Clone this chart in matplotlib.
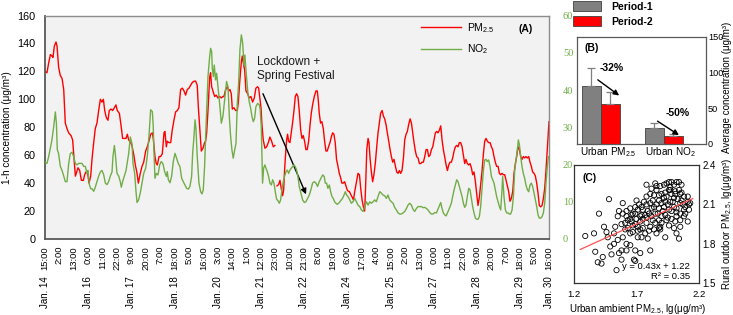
import numpy as np
import matplotlib
matplotlib.use('Agg')
import matplotlib.pyplot as plt
from matplotlib import transforms

plt.rcParams['font.family'] = ['Liberation Sans', 'DejaVu Sans']
plt.rcParams['mathtext.fontset'] = 'custom'
plt.rcParams['mathtext.rm'] = 'Liberation Sans'
plt.rcParams['mathtext.it'] = 'Liberation Sans:italic'
plt.rcParams['mathtext.bf'] = 'Liberation Sans:bold'

## (A) hourly series, hours since Jan. 14 15:00 -> value
pm_readings = [
    (0, 120), (1.5, 119), (2.8, 126), (4.1, 132), (5.3, 131), (6.1, 130), (7.1, 138), (8.4, 141), (9.2, 138),
    (10.4, 123), (11.7, 117), (13.0, 115), (14.3, 107), (15.5, 83), (16.8, 79), (18.1, 76), (19.9, 74),
    (21.1, 71), (22.1, 59), (23.2, 45), (24.2, 48), (25.2, 51), (26.5, 49), (27.8, 42), (29.3, 42), (30.3, 46),
    (31.3, 48), (32.6, 47), (33.6, 40), (34.9, 45), (35.9, 57), (37.2, 69), (38.4, 79), (39.7, 83), (41.0, 92),
    (42.3, 100), (43.5, 98), (44.6, 100), (45.6, 92), (46.8, 87), (48.1, 85), (49.1, 92), (50.4, 93), (51.7, 92),
    (53.0, 94), (54.2, 96), (55.2, 92), (56.8, 90), (58.0, 82), (59.3, 72), (60.6, 72), (61.9, 72), (62.9, 75),
    (63.9, 71), (65.4, 69), (66.4, 67), (67.7, 61), (69.0, 53), (70.3, 47), (71.3, 40), (72.8, 47), (74.1, 52),
    (75.4, 55), (76.9, 63), (78.1, 66), (79.4, 70), (80.7, 75), (82.0, 76), (82.7, 72), (84.0, 59), (85.0, 54),
    (85.8, 53), (87.1, 59), (88.3, 59), (89.6, 61), (90.9, 76), (91.6, 77), (92.7, 66), (93.4, 70), (94.7, 69),
    (96.0, 69), (97.2, 78), (98.5, 85), (99.8, 91), (101.1, 92), (102.3, 94), (103.6, 107), (104.9, 108),
    (106.2, 106), (107.4, 103), (108.7, 107), (110.0, 108), (111.2, 110), (112.5, 112), (113.8, 113),
    (115.1, 113), (116.3, 110), (117.1, 95), (118.1, 81), (119.4, 63), (120.7, 65), (121.9, 69), (122.7, 70),
    (123.5, 76), (124.5, 92), (125.8, 116), (126.5, 119), (127.3, 109), (128.3, 106), (129.6, 102),
    (130.8, 103), (132.1, 101), (133.4, 102), (134.7, 101), (135.9, 102), (136.7, 102), (138.0, 107),
    (139.3, 109), (140.5, 106), (141.3, 107), (142.3, 104), (143.1, 93), (144.3, 94), (145.6, 92), (146.9, 92),
    (147.7, 98), (148.7, 112), (150.0, 127), (150.7, 131), (151.5, 126), (152.5, 121), (153.5, 106),
    (154.8, 104), (156.0, 101), (157.3, 102), (158.6, 98), (159.9, 101), (161.1, 108), (162.4, 109),
    (163.2, 108), (164.2, 100), (165.0, 94), (165.7, 82), (166.7, 71), (168.0, 65), (169.3, 66), (170.6, 69),
    (171.8, 73), (173.1, 70), (174.4, 66), (175.6, 67), (176.4, np.nan), (177.2, 38), (178.5, 39), (179.5, 42),
    (180.5, 36), (181.5, 31), (182.3, 35), (183.0, 49), (183.8, 61), (184.6, 71), (185.3, 75), (186.1, 70),
    (187.1, 69), (188.1, 76), (189.1, 83), (190.2, 92), (191.2, 102), (192.2, 104), (193.2, 102), (194.2, 92),
    (195.3, 78), (196.3, 72), (197.3, 74), (198.3, 70), (199.3, 64), (200.3, 64), (201.4, 70), (202.4, 81),
    (203.4, 90), (204.4, 96), (205.7, 102), (207.0, 106), (208.0, 106), (208.7, 100), (209.5, 90), (210.5, 83),
    (211.5, 84), (212.6, 79), (213.6, 70), (214.6, 63), (215.6, 63), (216.6, 66), (217.7, 69), (218.7, 73),
    (219.7, 76), (220.7, 75), (221.7, 69), (222.7, 57), (223.8, 52), (224.8, 47), (225.8, 44), (226.8, 40),
    (227.8, 40), (228.9, 41), (229.9, 38), (230.9, 35), (231.9, 34), (232.5, 34), (233.5, 32), (234.6, 30),
    (235.6, 28), (236.6, 34), (237.9, 41), (239.1, 47), (240.2, 46), (241.2, 36), (242.2, 28), (243.2, 23),
    (244.2, 20), (245.0, 40), (245.8, 64), (246.8, 72), (247.5, 69), (248.3, 58), (249.3, 48), (250.3, 41),
    (251.4, 47), (252.4, 55), (253.4, 66), (254.4, 76), (255.4, 83), (256.4, 90), (257.5, 92), (258.5, 88),
    (259.5, 86), (260.5, 82), (261.5, 76), (262.6, 70), (263.6, 64), (264.6, 59), (265.6, 55), (266.6, 57),
    (267.7, 52), (268.7, 48), (269.7, 47), (270.7, 49), (271.7, 47), (272.7, 49), (273.8, 58), (274.8, 71),
    (275.8, 75), (276.8, 77), (277.8, 82), (278.9, 86), (279.9, 83), (280.9, 76), (281.9, 69), (282.9, 63),
    (283.9, 59), (285.0, 58), (286.0, 54), (287.0, 54), (288.0, 55), (289.0, 55), (290.1, 59), (291.1, 64),
    (292.1, 64), (293.1, 59), (294.1, 60), (295.2, 64), (296.2, 66), (297.2, 71), (298.2, 76), (299.2, 77),
    (300.2, 76), (301.3, 78), (302.3, 81), (303.3, 71), (304.3, 64), (305.3, 59), (306.4, 53), (307.4, 49),
    (308.4, 53), (309.4, 55), (310.4, 55), (311.4, 58), (312.5, 63), (313.5, 66), (314.5, 67), (315.5, 66),
    (316.5, 69), (317.5, 69), (318.6, 66), (319.6, 60), (320.6, 54), (321.6, 57), (322.6, 54), (323.7, 53),
    (324.7, 54), (325.7, 51), (326.7, 46), (327.7, 48), (328.8, 41), (329.8, 32), (330.8, 24), (331.8, 30),
    (332.8, 39), (333.8, 48), (334.9, 61), (335.9, 70), (336.9, 72), (337.9, 70), (338.9, 69), (340.0, 69),
    (341.0, 66), (342.0, 64), (343.0, 59), (344.0, 55), (345.0, 52), (346.1, 52), (347.1, 47), (348.1, 46),
    (349.1, 47), (350.1, 46), (351.2, 46), (352.2, 42), (353.2, 38), (354.2, 34), (355.2, 27), (356.2, 29),
    (357.3, 34), (358.3, 47), (359.3, 54), (360.3, 59), (361.3, 66), (362.4, 64), (363.4, 59), (364.4, 57),
    (365.4, 59), (366.4, 58), (367.4, 59), (368.5, 58), (369.5, 59), (370.5, 55), (371.5, 52), (372.5, 48),
    (373.6, 47), (374.6, 45), (375.6, 40), (376.6, 33), (377.6, 24), (378.7, 23), (379.7, 24), (380.7, 29),
    (381.7, 36), (382.7, 49), (383.7, 64), (385.0, 84),
]

no2_readings = [
    (0, 20.6), (1.5, 20.3), (2.8, 22.1), (4.1, 24.4), (5.3, 26.6), (6.6, 30.0), (7.9, 34.1), (8.7, 31.1),
    (9.4, 24.0), (10.4, 22.9), (11.7, 19.5), (13.0, 18.4), (14.3, 16.9), (15.5, 15.4), (16.8, 15.4),
    (18.1, 20.3), (19.3, 22.9), (20.6, 23.3), (21.9, 22.1), (23.2, 20.3), (24.4, 19.9), (25.7, 20.3),
    (27.0, 20.3), (28.3, 20.3), (29.5, 19.5), (30.8, 19.5), (32.1, 17.6), (32.8, 18.4), (33.9, 14.6),
    (34.9, 13.5), (35.9, 13.5), (37.2, 12.8), (38.4, 13.9), (39.7, 15.4), (41.0, 16.9), (42.3, 18.0),
    (43.5, 18.4), (44.8, 17.3), (46.1, 15.0), (47.4, 14.6), (48.6, 15.4), (49.9, 16.9), (51.2, 18.0),
    (51.9, 22.1), (53.0, 25.1), (53.7, 22.9), (55.0, 17.6), (56.3, 16.9), (57.5, 15.4), (58.3, 13.9),
    (59.3, 15.4), (60.6, 16.9), (61.9, 18.4), (62.9, 20.6), (63.9, 22.9), (65.2, 27.4), (66.5, 25.5),
    (67.2, 20.3), (68.5, 17.6), (69.5, 12.8), (70.3, 9.8), (71.5, 10.5), (72.8, 12.4), (74.1, 15.0),
    (75.4, 17.6), (76.9, 19.0), (78.1, 22.1), (79.4, 27.5), (80.7, 34.7), (82.0, 34.2), (82.7, 30.2),
    (83.2, 23.9), (84.0, 16.3), (85.0, 17.6), (86.3, 17.2), (87.6, 19.9), (88.8, 20.8), (90.1, 20.2),
    (91.4, 18.1), (92.7, 16.8), (93.4, 18.1), (94.2, 15.9), (95.5, 15.1), (96.7, 16.8), (98.0, 20.8),
    (99.3, 23.0), (100.5, 21.7), (101.8, 20.3), (103.1, 19.4), (104.4, 16.3), (105.6, 15.4), (106.9, 14.5),
    (108.2, 13.6), (109.5, 13.4), (110.7, 14.1), (112.0, 16.8), (112.8, 23.0), (113.8, 27.5), (114.6, 32.0),
    (115.3, 29.7), (116.3, 22.1), (117.6, 15.0), (118.9, 12.7), (119.9, 12.1), (120.9, 13.2), (121.9, 19.4),
    (122.7, 27.5), (123.5, 34.7), (124.5, 43.6), (125.8, 49.0), (126.5, 51.2), (127.3, 50.3), (127.8, 45.8),
    (128.6, 43.6), (129.3, 46.7), (130.3, 42.7), (131.1, 44.5), (132.1, 40.9), (133.4, 36.4), (134.7, 31.1),
    (135.9, 32.9), (137.2, 37.3), (138.7, 42.3), (139.8, 40.9), (140.8, 32.9), (141.8, 27.5), (142.8, 23.9),
    (143.8, 21.7), (144.9, 23.9), (145.9, 25.7), (146.9, 36.4), (147.9, 41.8), (148.9, 50.8), (150.0, 54.8),
    (151.0, 52.6), (152.0, 46.7), (152.7, 49.4), (153.5, 45.4), (155.0, 39.1), (156.0, 36.9), (157.1, 35.1),
    (158.1, 32.9), (159.1, 31.5), (160.1, 32.4), (161.1, 35.5), (162.4, 36.4), (163.7, 36.0), (164.4, 34.7),
    (165.2, 30.2), (165.7, 22.1), (166.2, 15.0), (167.0, 19.0), (168.0, 19.9), (168.8, 19.0), (169.8, 18.1),
    (170.8, 16.8), (171.8, 15.0), (172.9, 14.5), (173.9, 15.9), (174.9, 15.0), (175.9, 12.7), (176.9, 10.7),
    (177.9, 10.3), (179.0, 9.6), (180.0, 10.5), (181.0, 13.2), (182.0, 15.4), (183.0, 16.8), (184.1, 18.1),
    (185.1, 18.5), (186.1, 17.6), (187.1, 18.5), (188.1, 19.0), (189.1, 19.4), (190.2, 19.9), (191.2, 19.4),
    (192.2, 18.5), (193.2, 16.8), (194.2, 14.1), (195.5, 12.3), (196.8, 10.5), (198.1, 9.8), (199.3, 10.0),
    (200.6, 10.9), (201.9, 11.8), (203.1, 13.2), (204.4, 15.0), (205.7, 15.4), (207.0, 15.0), (208.2, 14.1),
    (209.5, 15.4), (210.8, 16.3), (212.1, 17.2), (213.3, 16.8), (214.1, 15.0), (215.1, 15.0), (216.1, 13.6),
    (217.2, 14.5), (218.2, 12.7), (219.2, 11.4), (220.2, 10.9), (221.2, 10.0), (222.2, 9.6), (223.3, 9.3),
    (224.3, 9.6), (225.3, 10.0), (226.3, 10.5), (227.3, 10.9), (228.4, 11.8), (229.4, 12.7), (230.4, 11.8),
    (231.4, 11.4), (232.8, 10.5), (234.0, 9.6), (235.3, 10.0), (236.6, 10.9), (237.9, 10.0), (239.1, 9.1),
    (240.4, 8.7), (241.7, 7.8), (243.0, 7.4), (244.2, 8.7), (245.5, 10.0), (246.8, 9.1), (248.1, 10.0),
    (249.3, 9.6), (250.6, 10.0), (251.9, 10.5), (253.1, 10.0), (254.4, 11.4), (255.7, 12.7), (257.0, 12.3),
    (258.2, 11.8), (259.5, 11.6), (260.8, 10.9), (262.0, 11.8), (263.3, 10.5), (264.6, 10.0), (265.9, 9.6),
    (267.1, 8.5), (268.4, 7.8), (269.7, 7.0), (271.0, 6.7), (272.2, 6.7), (273.5, 7.0), (274.8, 7.4),
    (276.1, 8.2), (277.3, 9.1), (278.6, 9.6), (279.9, 9.1), (281.1, 8.0), (282.4, 7.4), (283.7, 8.2),
    (285.0, 8.7), (286.2, 8.7), (287.5, 8.7), (288.8, 8.4), (290.1, 8.5), (291.3, 8.2), (292.6, 7.8),
    (293.9, 7.1), (295.2, 6.7), (296.4, 6.7), (297.7, 7.1), (299.0, 7.0), (300.2, 8.0), (301.5, 9.1),
    (302.3, 9.8), (303.3, 8.2), (304.3, 7.0), (305.3, 6.5), (306.4, 6.2), (307.4, 7.0), (308.4, 7.8),
    (309.4, 8.7), (310.4, 9.6), (311.4, 11.4), (312.5, 13.2), (313.5, 14.5), (314.5, 15.9), (315.5, 15.4),
    (316.5, 14.1), (317.5, 12.7), (318.6, 11.4), (319.6, 9.6), (320.6, 8.5), (321.6, 9.1), (322.6, 11.4),
    (323.7, 13.6), (324.7, 13.2), (325.7, 10.9), (326.7, 8.7), (327.7, 7.0), (328.8, 5.6), (329.8, 5.3),
    (330.8, 5.3), (331.8, 6.0), (332.8, 8.7), (333.8, 13.2), (334.9, 18.5), (335.9, 21.2), (336.9, 21.4),
    (337.9, 20.8), (338.9, 21.2), (340.0, 19.4), (341.0, 16.8), (342.0, 15.9), (343.0, 15.0), (344.0, 13.2),
    (345.0, 11.4), (346.1, 10.0), (347.1, 8.7), (348.1, 7.8), (349.1, 13.2), (349.6, 16.8), (350.6, 11.4),
    (351.7, 7.8), (352.7, 7.0), (353.7, 7.0), (354.7, 6.7), (355.7, 6.7), (356.8, 7.8), (357.8, 11.4),
    (358.8, 18.5), (359.8, 21.2), (360.8, 23.9), (361.6, 26.6), (362.4, 25.3), (363.4, 22.1), (364.4, 19.4),
    (365.4, 17.6), (366.4, 16.3), (367.4, 14.5), (368.5, 13.2), (369.5, 12.7), (370.5, 14.5), (371.5, 15.0),
    (372.5, 14.1), (373.6, 12.3), (374.6, 10.5), (375.6, 8.7), (376.6, 6.5), (377.6, 5.6), (378.7, 5.6),
    (379.7, 6.0), (380.7, 7.0), (381.7, 9.6), (382.7, 15.0), (383.7, 19.4), (384.5, 22.1),
]

time_labels = ['15:00', '2:00', '13:00', '0:00', '11:00', '22:00', '9:00', '20:00', '7:00', '18:00',
               '5:00', '16:00', '3:00', '14:00', '1:00', '12:00', '23:00', '10:00', '21:00', '8:00',
               '19:00', '6:00', '17:00', '4:00', '15:00', '2:00', '13:00', '0:00', '11:00', '22:00',
               '9:00', '20:00', '7:00', '18:00', '5:00', '16:00']
tick_step = 11
date_labels = ['Jan. 14', 'Jan. 16', 'Jan. 17', 'Jan. 18', 'Jan. 20', 'Jan. 21', 'Jan. 22',
               'Jan. 24', 'Jan. 25', 'Jan. 27', 'Jan. 28', 'Jan. 29', 'Jan. 30']
date_tick_index = [0, 3, 6, 9, 12, 15, 18, 21, 24, 27, 30, 33, 35]

## (B) averages
groups = ['Urban PM$_{\\mathrm{2.5}}$', 'Urban NO$_{\\mathrm{2}}$']
period1 = [82, 22]
period1_err = [25, 8]
period2 = [56, 11]
period2_err = [17, 3]
changes = ['-32%', '-50%']

## (C) rural vs urban, lg values
scatter_pts = [
    (1.29, 1.86), (1.36, 1.88), (1.40, 2.03), (1.48, 2.14), (1.44, 1.93), (1.37, 1.74), (1.39, 1.66),
    (1.42, 1.65), (1.43, 1.70), (1.46, 1.89), (1.47, 1.85), (1.49, 1.78), (1.52, 1.80), (1.54, 1.60),
    (1.58, 1.68), (1.56, 1.73), (1.50, 1.72), (1.55, 1.83), (1.58, 1.75), (1.59, 1.85), (1.61, 1.91),
    (1.61, 1.96), (1.63, 1.98), (1.65, 1.99), (1.65, 1.88), (1.67, 1.94), (1.68, 1.68), (1.69, 1.67),
    (1.69, 1.75), (1.73, 1.73), (1.71, 1.85), (1.73, 1.91), (1.74, 2.02), (1.75, 2.06), (1.78, 2.10),
    (1.78, 2.25), (1.81, 2.18), (1.82, 2.22), (1.85, 2.26), (1.86, 2.21), (1.88, 2.13), (1.89, 2.24),
    (1.92, 2.25), (1.94, 2.26), (1.96, 2.27), (1.98, 2.27), (2.00, 2.25), (2.02, 2.27), (2.04, 2.27),
    (1.97, 2.21), (2.01, 2.18), (2.05, 2.18), (2.08, 2.16), (2.11, 2.12), (2.12, 2.10), (2.05, 2.11),
    (2.08, 2.06), (2.02, 2.01), (2.05, 1.93), (2.02, 1.88), (2.04, 1.84), (2.00, 1.92), (1.93, 1.85),
    (1.94, 1.98), (1.89, 1.93), (1.86, 1.88), (1.84, 1.91), (1.81, 1.93), (1.78, 1.96), (1.75, 1.99),
    (1.73, 1.97), (1.70, 1.99), (1.67, 2.03), (1.65, 2.07), (1.62, 2.05), (1.59, 2.03), (1.56, 2.05),
    (1.55, 2.01), (1.58, 1.95), (1.63, 1.92), (1.67, 1.89), (1.71, 1.93), (1.77, 1.88), (1.79, 1.84),
    (1.82, 2.01), (1.85, 2.03), (1.88, 2.07), (1.90, 2.11), (1.92, 2.15), (1.94, 2.16), (1.97, 2.12),
    (2.00, 2.08), (2.02, 2.07), (2.05, 2.03), (2.08, 2.01), (2.11, 1.97), (2.09, 2.08), (2.06, 2.13),
    (2.11, 2.16), (2.13, 2.11), (2.00, 2.15), (1.98, 2.05), (1.96, 2.06), (1.93, 2.02), (1.90, 2.01),
    (1.88, 1.98), (1.85, 1.96), (1.84, 2.08), (1.81, 2.11), (1.79, 2.05), (1.77, 2.02), (1.74, 2.08),
    (1.71, 2.06), (1.70, 2.13), (1.69, 2.08), (1.66, 1.97), (1.62, 2.01), (1.81, 1.75), (1.65, 1.79),
    (1.62, 1.80), (1.52, 1.88), (1.53, 1.93), (1.59, 2.11), (1.73, 2.01), (1.89, 1.91), (1.96, 1.94),
    (2.01, 1.97), (2.05, 1.98), (1.90, 2.18), (1.88, 2.17), (2.06, 2.25), (2.04, 2.21), (1.98, 2.18),
    (1.96, 2.21), (1.86, 2.10), (1.78, 2.16), (1.75, 1.92), (1.62, 1.75), (1.69, 2.03), (1.83, 2.13),
    (1.92, 2.08), (1.98, 1.99), (1.72, 2.10), (1.76, 2.12), (1.80, 2.03), (1.83, 1.98), (1.87, 2.03),
    (1.91, 2.05), (1.95, 2.10), (1.99, 2.12), (2.03, 2.14), (2.07, 2.10), (1.93, 2.19), (1.97, 2.23),
    (2.01, 2.20), (1.84, 2.17), (1.78, 2.00), (1.69, 1.95), (1.74, 1.85), (1.80, 1.90), (1.90, 1.96),
    (2.02, 2.04), (2.09, 2.03), (1.86, 2.24), (1.95, 2.00), (1.88, 1.92), (1.66, 2.02), (1.71, 1.90),
    (2.12, 2.06), (2.06, 2.19), (1.82, 2.07), (1.93, 2.12),
]
fit_slope = 0.43
fit_intercept = 1.22
fit_x = [1.25, 2.15]
fit_r2 = 0.35

red = '#FF0000'
green = '#70AD47'

W, H = 733, 315
fig = plt.figure(figsize=(W / 100, H / 100), dpi=100)


def px_box(l, t, r, b):
    return [l / W, 1 - b / H, (r - l) / W, (b - t) / H]


## ---------------- (A) ----------------
ax = fig.add_axes(px_box(45, 15.5, 549, 239))
ax.set_facecolor('#F2F2F2')
pm_h, pm_v = zip(*pm_readings)
l1, = ax.plot(pm_h, pm_v, color=red, lw=1.0)
ax.set_xlim(0, tick_step * (len(time_labels) - 1))
ax.set_ylim(0, 160)
ax.set_yticks(range(0, 161, 20))
ax.set_xticks(np.arange(len(time_labels)) * tick_step)
ax.set_xticklabels(time_labels, rotation=90, fontsize=6.8)
ax.tick_params(axis='x', length=0, pad=5)
ax.tick_params(axis='y', length=0, pad=7, labelsize=7.8)
for s in ['left', 'bottom']:
    ax.spines[s].set_color('#595959')
    ax.spines[s].set_linewidth(1.3)
for s in ['top', 'right']:
    ax.spines[s].set_color('#8C8C8C')
    ax.spines[s].set_linewidth(1.0)
ax.set_ylabel('1-h concentration (μg/m³)', fontsize=7.2, labelpad=4)

trans = transforms.blended_transform_factory(ax.transData, ax.transAxes)
for lab, i in zip(date_labels, date_tick_index):
    ax.text(i * tick_step, -0.168, lab, transform=trans, rotation=90,
            ha='center', va='top', fontsize=7)

ax2 = ax.twinx()
no2_h, no2_v = zip(*no2_readings)
l2, = ax2.plot(no2_h, no2_v, color=green, lw=1.0)
ax2.set_ylim(0, 60)
ax2.set_yticks(range(0, 61, 10))
for s in ax2.spines.values():
    s.set_visible(False)
ax2.tick_params(axis='y', length=0, pad=10, labelsize=7.5, labelcolor=green)
for t in ax2.get_yticklabels():
    t.set_fontfamily('Liberation Serif')

ax.legend([l1, l2], ['PM$_{\\mathrm{2.5}}$', 'NO$_{\\mathrm{2}}$'], loc='upper left',
          bbox_to_anchor=(421 / W, 1 - 21 / H), bbox_transform=fig.transFigure,
          frameon=False, fontsize=7.5, handlelength=3.8, handletextpad=0.6,
          labelspacing=0.75, borderpad=0, borderaxespad=0)
ax.text(362, 150, '(A)', fontsize=7.5, fontweight='bold', va='center')
ax.text(162, 131, 'Lockdown +\nSpring Festival', fontsize=8.5, va='top', ha='left',
        linespacing=1.2, color='#1a1a1a')
ax.annotate('', xy=(199.4, 32), xytext=(166.5, 104),
            arrowprops=dict(arrowstyle='-|>', color='black', lw=1.0,
                            mutation_scale=8, shrinkA=0, shrinkB=0))

## ---------------- (B) ----------------
axb = fig.add_axes(px_box(577, 37, 706, 144))
x = np.arange(len(groups))
bw = 0.3
ekw = dict(ecolor='#7F7F7F', elinewidth=0.9, capsize=3, capthick=0.9)
b1 = axb.bar(x - bw / 2, period1, bw, color='#808080', edgecolor='#404040', lw=0.6,
             yerr=[[0] * len(period1), period1_err], error_kw=ekw, label='Period-1')
b2 = axb.bar(x + bw / 2, period2, bw, color=red, edgecolor='#404040', lw=0.6,
             yerr=[[0] * len(period2), period2_err], error_kw=ekw, label='Period-2')
axb.set_xlim(-0.38, 1.67)
axb.set_ylim(0, 150)
axb.set_yticks([0, 50, 100, 150])
axb.yaxis.tick_right()
axb.tick_params(axis='y', length=0, pad=1.5, labelsize=6.6)
axb.set_xticks(x)
axb.set_xticklabels(groups, fontsize=7.2)
axb.tick_params(axis='x', length=0, pad=1)
shift = transforms.ScaledTranslation(7 / 100, 0, fig.dpi_scale_trans)
for t in axb.get_xticklabels():
    t.set_transform(t.get_transform() + shift)
for s in axb.spines.values():
    s.set_color('#595959')
    s.set_linewidth(0.9)
axb.text(0.062, 0.9, '(B)', transform=axb.transAxes, fontsize=7.5, fontweight='bold', va='center')
axb.text(0.175, 106, changes[0], fontsize=7.5, fontweight='bold', ha='center', va='center')
axb.annotate('', xy=(0.29, 68), xytext=(-0.05, 90),
             arrowprops=dict(arrowstyle='-|>', color='black', lw=1.0, mutation_scale=8,
                             shrinkA=0, shrinkB=0))
axb.text(1.22, 44, changes[1], fontsize=7.5, fontweight='bold', ha='center', va='center')
axb.annotate('', xy=(1.24, 12.5), xytext=(0.90, 32),
             arrowprops=dict(arrowstyle='-|>', color='black', lw=1.0, mutation_scale=8,
                             shrinkA=0, shrinkB=0))
fig.legend([b1, b2], ['Period-1', 'Period-2'], loc='upper left',
           bbox_to_anchor=(573 / W, 1 - 1 / H), frameon=False,
           prop={'weight': 'bold', 'size': 7.5}, handlelength=2.7, handleheight=1.1,
           handletextpad=1.0, labelspacing=0.45, borderpad=0, borderaxespad=0)
fig.text(727.5 / W, 1 - 87 / H, 'Average concentration (μg/m³)', rotation=90,
         ha='center', va='center', fontsize=7.0)

## ---------------- (C) ----------------
axc = fig.add_axes(px_box(574, 165, 699, 283.3))
sx, sy = zip(*scatter_pts)
axc.scatter(sx, sy, s=14, facecolors='none', edgecolors='black', linewidths=0.6)
fx = np.array(fit_x)
axc.plot(fx, fit_slope * fx + fit_intercept, color='#FF5050', lw=0.9)
axc.set_xlim(1.2, 2.2)
axc.set_ylim(1.5, 2.4)
axc.set_xticks([1.2, 1.7, 2.2])
axc.set_yticks([1.5, 1.8, 2.1, 2.4])
axc.yaxis.tick_right()
axc.tick_params(axis='y', length=0, pad=2.5, labelsize=7)
axc.tick_params(axis='x', length=0, pad=5, labelsize=6.8)
for s in axc.spines.values():
    s.set_color('#333333')
    s.set_linewidth(0.9)
axc.text(0.07, 0.89, '(C)', transform=axc.transAxes, fontsize=7.5, fontweight='bold', va='center')
axc.text(0.93, 0.14, 'y = %.2fx + %.2f' % (fit_slope, fit_intercept), transform=axc.transAxes,
         fontsize=6.8, ha='right', va='center')
axc.text(0.93, 0.06, 'R² = %.2f' % fit_r2, transform=axc.transAxes,
         fontsize=6.8, ha='right', va='center')
fig.text(638 / W, 1 - 309 / H, 'Urban ambient PM$_{\\mathrm{2.5}}$, lg(μg/m³)',
         ha='center', va='center', fontsize=7.0)
fig.text(727.5 / W, 1 - 224 / H, 'Rural outdoor PM$_{\\mathrm{2.5}}$, lg(μg/m³)', rotation=90,
         ha='center', va='center', fontsize=7.0)

fig.savefig('out.png', dpi=100)
